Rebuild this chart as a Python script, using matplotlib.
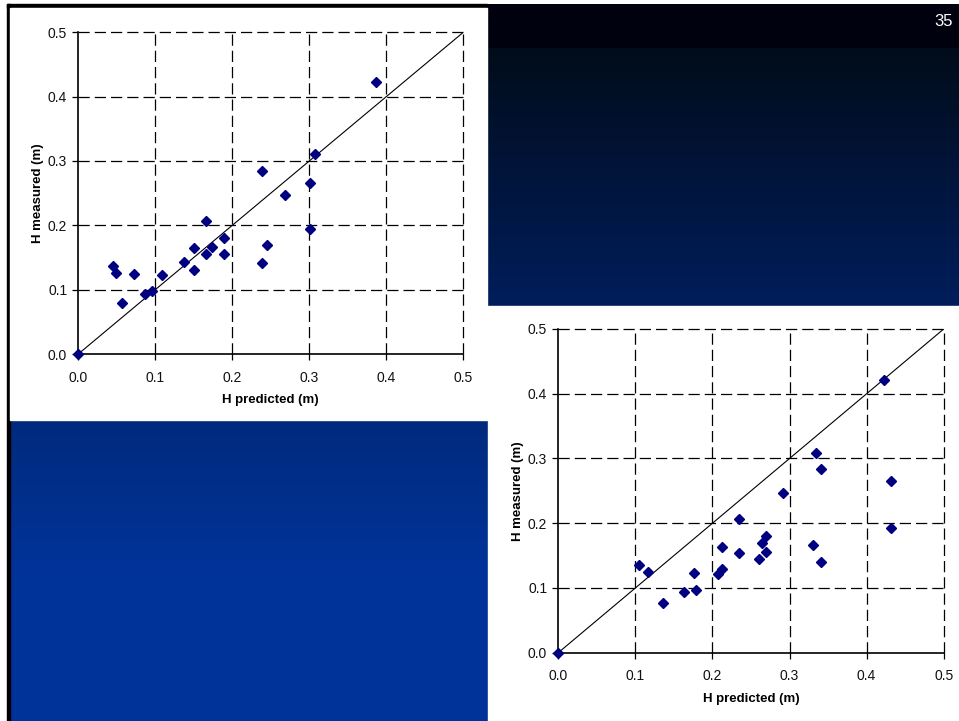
import numpy as np
import matplotlib.pyplot as plt
from matplotlib.patches import Rectangle

plt.rcParams['font.family'] = ['Liberation Sans', 'DejaVu Sans']

# =========================
# DATOS
# =========================

# grafico izquierdo
h_pred_1 = [0.0, 0.045, 0.049, 0.057, 0.072, 0.087, 0.096, 0.109, 0.137, 0.150,
            0.150, 0.166, 0.166, 0.173, 0.189, 0.189, 0.239, 0.239, 0.245, 0.268,
            0.301, 0.301, 0.307, 0.387]
h_meas_1 = [0.0, 0.137, 0.126, 0.079, 0.124, 0.094, 0.098, 0.123, 0.143, 0.164,
            0.131, 0.206, 0.155, 0.167, 0.181, 0.156, 0.285, 0.141, 0.170, 0.247,
            0.266, 0.194, 0.311, 0.422]

# grafico derecho
h_pred_2 = [0.0, 0.105, 0.117, 0.136, 0.163, 0.176, 0.179, 0.207, 0.212, 0.212,
            0.234, 0.234, 0.260, 0.264, 0.270, 0.270, 0.291, 0.330, 0.334, 0.341,
            0.341, 0.423, 0.432, 0.432]
h_meas_2 = [0.0, 0.135, 0.125, 0.077, 0.093, 0.123, 0.097, 0.122, 0.130, 0.163,
            0.206, 0.154, 0.144, 0.169, 0.180, 0.156, 0.247, 0.166, 0.308, 0.284,
            0.140, 0.421, 0.265, 0.193]

linea_ref = [0.0, 0.5]
ticks = [0.0, 0.1, 0.2, 0.3, 0.4, 0.5]
tick_labels = ['0.0', '0.1', '0.2', '0.3', '0.4', '0.5']

W, H = 959, 721

fig = plt.figure(figsize=(W / 100, H / 100), dpi=100)
fig.patch.set_facecolor('white')

# =========================
# FONDO DE LA DIAPOSITIVA
# =========================

bg = fig.add_axes([0, 0, 1, 1])
bg.set_xlim(0, W)
bg.set_ylim(H, 0)
bg.axis('off')

stops_y = [4, 47, 48, 306, 420, 570, 721]
stops_r = [0, 0, 2, 0, 0, 0, 0]
stops_g = [0, 2, 12, 30, 42, 51, 51]
stops_b = [14, 16, 26, 92, 124, 153, 153]
yy = np.arange(4, H + 1)
grad = np.stack([np.interp(yy, stops_y, stops_r),
                 np.interp(yy, stops_y, stops_g),
                 np.interp(yy, stops_y, stops_b)], axis=1) / 255.0
grad = np.repeat(grad[:, None, :], 2, axis=1)
bg.imshow(grad, extent=[7, W, H, 4], aspect='auto', interpolation='bilinear')

bg.add_patch(Rectangle((7, 4), 2.5, H - 4, color='black'))
bg.add_patch(Rectangle((7, 4), 480, 4, color='black'))
bg.add_patch(Rectangle((9.5, 8), 477.5, 412, color='white'))
bg.add_patch(Rectangle((487.5, 306), W - 487.5, H - 306, color='white'))
bg.text(944, 21, '35', color='white', fontsize=12, ha='center', va='center')


# =========================
# GRAFICOS
# =========================

def dibujar(rect, xs, ys):
    ax = fig.add_axes(rect)
    ax.set_facecolor('none')
    ax.set_xlim(0, 0.5)
    ax.set_ylim(0, 0.5)
    for t in ticks[1:]:
        ax.axhline(t, color='black', lw=0.9, dashes=(9, 4), clip_on=False, zorder=1)
        ax.axvline(t, color='black', lw=0.9, dashes=(9, 4), clip_on=False, zorder=1)
    ax.plot(linea_ref, linea_ref, color='black', lw=0.8, zorder=2)
    ax.plot(xs, ys, linestyle='none', marker='D', markersize=4.6,
            color='#000080', clip_on=False, zorder=3)
    ax.set_xticks(ticks)
    ax.set_yticks(ticks)
    ax.set_xticklabels(tick_labels)
    ax.set_yticklabels(tick_labels)
    ax.tick_params(axis='both', labelsize=10, length=4, width=0.9,
                   color='black', labelcolor='#111111')
    ax.tick_params(axis='x', pad=8)
    ax.tick_params(axis='y', pad=4)
    ax.spines['top'].set_visible(False)
    ax.spines['right'].set_visible(False)
    ax.spines['left'].set_linewidth(1.2)
    ax.spines['bottom'].set_linewidth(1.2)
    ax.set_xlabel('H predicted (m)', fontsize=9.5, fontweight='bold', labelpad=7)
    ax.set_ylabel('H measured (m)', fontsize=9.5, fontweight='bold', labelpad=3)
    return ax


dibujar([78.3 / W, 1 - 354 / H, 385 / W, 321.7 / H], h_pred_1, h_meas_1)
dibujar([558.3 / W, 1 - 652.7 / H, 385.4 / W, 323.7 / H], h_pred_2, h_meas_2)

plt.savefig('out.png', dpi=100, facecolor=fig.get_facecolor())
